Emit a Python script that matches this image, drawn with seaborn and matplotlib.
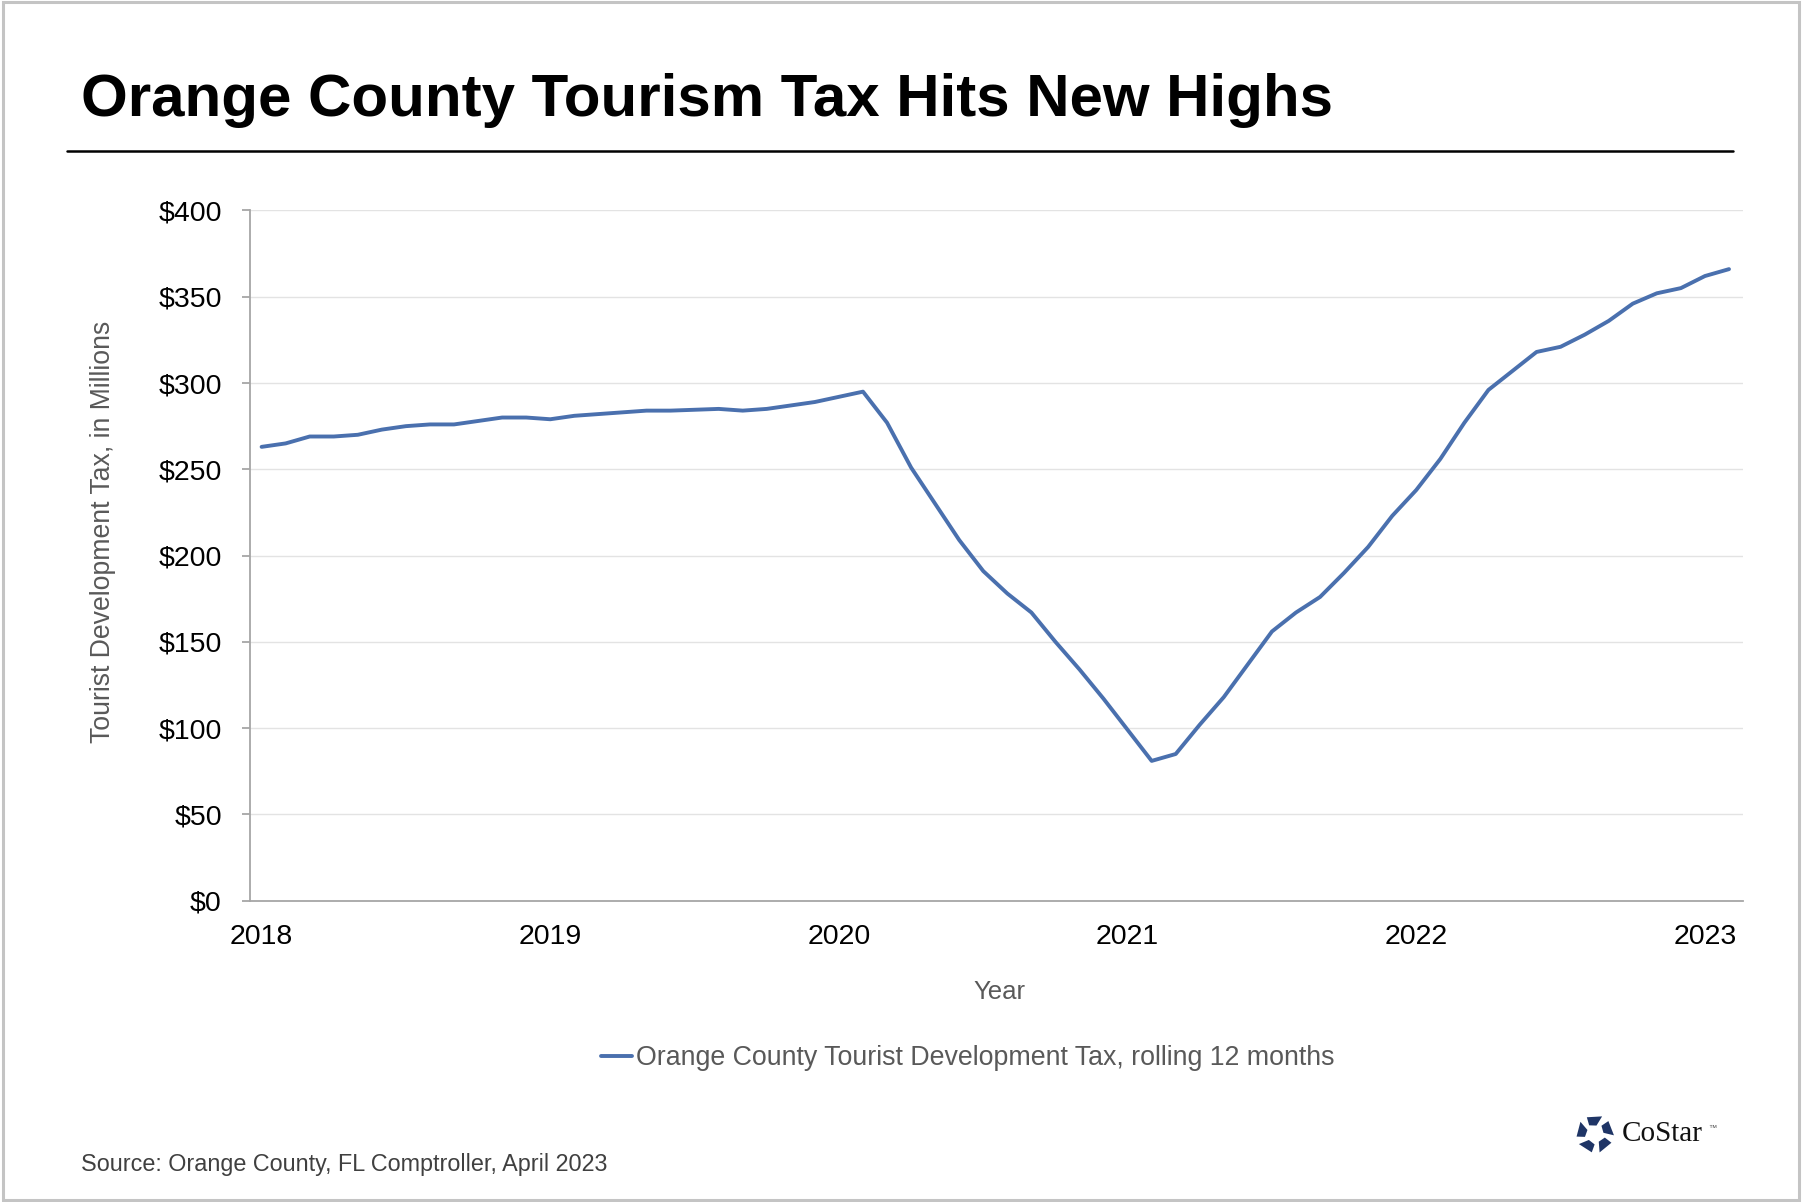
import matplotlib
matplotlib.use("Agg")
import matplotlib.pyplot as plt
import seaborn as sns
import numpy as np
import pandas as pd
from matplotlib.patches import Polygon, Rectangle
from matplotlib.lines import Line2D

# ---------------- data ----------------
months = list(range(62))  # Jan 2018 .. Feb 2023
tax_millions = [263, 265, 269, 269, 270, 273, 275, 276, 276, 278, 280, 280,
                279, 281, 282, 283, 284, 284, 284.5, 285, 284, 285, 287, 289,
                292, 295, 277, 251, 230, 209, 191, 178, 167, 150, 134, 117,
                99, 81, 85, 102, 118, 137, 156, 167, 176, 190, 205, 223,
                238, 256, 277, 296, 307, 318, 321, 328, 336, 346, 352, 355,
                362, 366]
year_ticks = [0, 12, 24, 36, 48, 60]
year_labels = ["2018", "2019", "2020", "2021", "2022", "2023"]
y_ticks = [0, 50, 100, 150, 200, 250, 300, 350, 400]
y_labels = ["$0", "$50", "$100", "$150", "$200", "$250", "$300", "$350", "$400"]
series_name = "Orange County Tourist Development Tax, rolling 12 months"

df = pd.DataFrame({"month": months, "value": tax_millions,
                   "series": [series_name] * len(months)})

# ---------------- style ----------------
sns.set_theme(style="white")
plt.rcParams["font.family"] = ["Liberation Sans", "DejaVu Sans"]

W, H = 1802, 1202
fig = plt.figure(figsize=(W / 100, H / 100), dpi=100)
fig.patch.set_facecolor("white")

ax = fig.add_axes([0.1385, 0.2507, 0.829, 0.5742])
line_color = "#4A70AE"
sns.lineplot(data=df, x="month", y="value", hue="series",
             palette=[line_color], linewidth=2.8, ax=ax, legend=False)

ax.set_xlim(-0.5, 61.6)
ax.set_ylim(0, 400)
ax.set_yticks(y_ticks)
ax.set_yticklabels(y_labels)
ax.set_xticks(year_ticks)
ax.set_xticklabels(year_labels)

ax.grid(axis="y", color="#E3E3E3", linewidth=1.0)
ax.grid(axis="x", visible=False)
ax.set_axisbelow(True)
for s in ["top", "right"]:
    ax.spines[s].set_visible(False)
for s in ["left", "bottom"]:
    ax.spines[s].set_color("#A6A6A6")
    ax.spines[s].set_linewidth(1.3)

ax.tick_params(axis="y", which="both", left=True, length=6, width=1.3,
               color="#A6A6A6", pad=14, labelsize=20.5, labelcolor="#000000")
ax.tick_params(axis="x", which="both", bottom=False, length=0, pad=17,
               labelsize=20.5, labelcolor="#000000")

ax.set_xlabel("Year", fontsize=18.5, color="#595959")
ax.xaxis.label.set_va("center")
ax.xaxis.set_label_coords(0.502, -0.132)
ax.set_ylabel("Tourist Development Tax, in Millions", fontsize=19.2,
              color="#595959")
ax.yaxis.label.set_va("center")
ax.yaxis.set_label_coords(-0.098, 0.535)

handle = Line2D([0], [0], color=line_color, linewidth=2.8)
leg = ax.legend([handle], [series_name], loc="center",
                bbox_to_anchor=(0.537, 0.1196), bbox_transform=fig.transFigure,
                frameon=False, fontsize=19.3, handlelength=1.15,
                handletextpad=0.15)
for t in leg.get_texts():
    t.set_color("#595959")

# ---------------- title & decorations ----------------
fig.text(0.0447, 0.9033, "Orange County Tourism Tax Hits New Highs",
         fontsize=43.2, fontweight="bold", color="#000000",
         ha="left", va="baseline")
fig.add_artist(Line2D([0.037, 0.9617], [0.8746, 0.8746],
                      transform=fig.transFigure, color="#000000",
                      linewidth=1.8))

fig.text(0.0447, 0.0316, "Source: Orange County, FL Comptroller, April 2023",
         fontsize=16.8, color="#404040", ha="left", va="center")

# outer frame
fig.add_artist(Rectangle((0.0015, 0.0015), 0.997, 0.997,
                         transform=fig.transFigure, fill=False,
                         edgecolor="#C4C4C4", linewidth=2.2))

# CoStar logo (pinwheel icon + wordmark)
cx, cy = 1595, 1202 - 1134   # pixel centre of icon
R = 19
navy = "#1F3566"
for k in range(5):
    th = np.deg2rad(90 + 72 * k)
    pts_polar = [(0.45 * R, th - np.deg2rad(10)), (R, th - np.deg2rad(22)),
                 (R * 0.98, th + np.deg2rad(26)), (0.55 * R, th + np.deg2rad(34))]
    pts = [((cx + r * np.cos(a)) / W, (cy + r * np.sin(a)) / H)
           for r, a in pts_polar]
    fig.add_artist(Polygon(pts, closed=True, transform=fig.transFigure,
                           facecolor=navy, edgecolor="none"))
fig.text(1622 / W, cy / H, "CoStar", fontsize=21,
         family=["Liberation Serif", "DejaVu Serif"], color="#111111",
         ha="left", va="center")
fig.text(1708 / W, (cy + 6) / H, "\u2122", fontsize=6,
         color="#555555", ha="left", va="center")

fig.savefig("out.png", dpi=100, facecolor="white")
